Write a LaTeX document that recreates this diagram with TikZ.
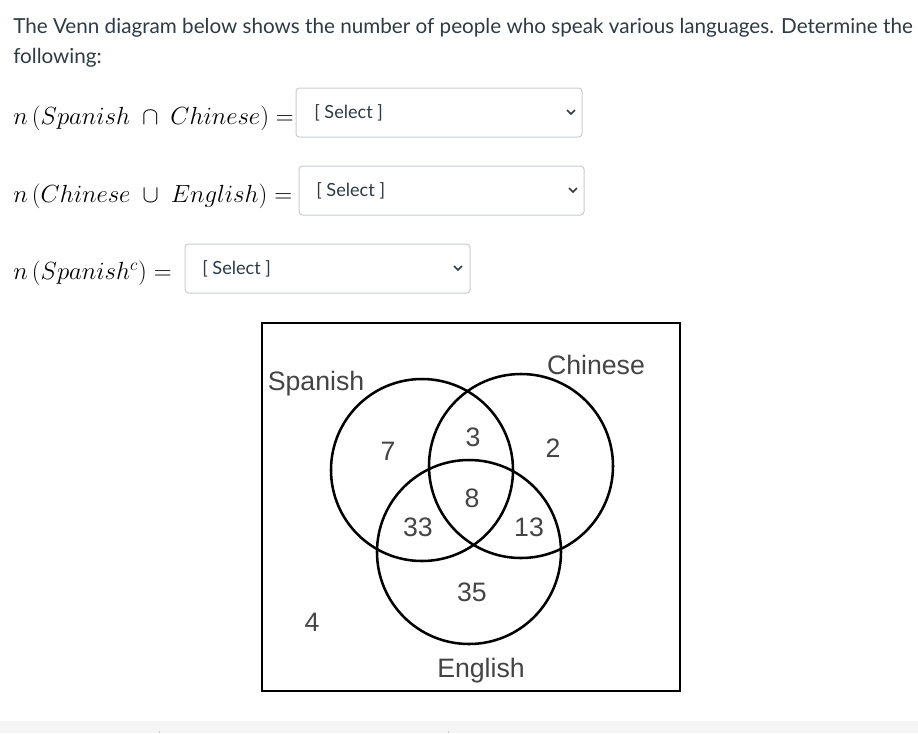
\RequirePackage{fix-cm}
\documentclass[tikz,border=0pt]{standalone}
\usepackage[no-math]{fontspec}
\usepackage{amsmath}
\usepackage{amssymb}
\setmainfont{Lato}
\newfontfamily\vennfont{Liberation Sans}
\definecolor{canvastext}{HTML}{2D3B45}
\definecolor{boxgray}{HTML}{C7CDD1}
\definecolor{venngray}{HTML}{444444}
\definecolor{stripgray}{HTML}{F5F5F5}

\begin{document}
\begin{tikzpicture}[x=0.75pt,y=-0.75pt,
  selbox/.style={draw=boxgray, line width=0.75pt, rounded corners=2.5pt},
  seltext/.style={anchor=base west, inner sep=0pt, text=canvastext, font=\fontsize{13.6}{16}\selectfont},
  chev/.style={draw=canvastext, line width=1.1pt},
  mathline/.style={anchor=base west, inner sep=0pt, font=\fontsize{18.6}{22}\selectfont},
  circ/.style={line width=1.9pt},
  vlabel/.style={inner sep=0pt, text=venngray, font=\vennfont\fontsize{20}{24}\selectfont}]
\useasboundingbox (0,0) rectangle (918,733);
\fill [white] (0,0) rectangle (918,733);
\fill [stripgray] (0,721) rectangle (918,733);
\draw [boxgray] (159,731) -- (159,733);
\draw [boxgray] (448,731) -- (448,733);
% question text
\node [anchor=base west, inner sep=0pt, text=canvastext, font=\fontsize{15.5}{18}\selectfont] (intro) at (13,33) {The Venn diagram below shows the number of people who speak various languages. Determine the};
\node [anchor=base west, inner sep=0pt, text=canvastext, font=\fontsize{15.5}{18}\selectfont] (intro2) at (13,63) {following:};
% the three questions
\node [mathline] (q1) at (13,124) {$n\left(Spanish\ \cap\ Chinese\right) =$};
\node [mathline] (q2) at (13,202) {$n\left(Chinese\ \cup\ English\right) =$};
\node [mathline] (q3) at (13,279) {$n\left(Spanish^c\right) =$};
\draw [selbox] (296,88) rectangle (582,137);
\node [seltext] (s1) at (314,118) {[ Select ]};
\draw [chev] (567,110) -- (571,114) -- (575,110);
\draw [selbox] (299,166) rectangle (584,215);
\node [seltext] (s2) at (316,196) {[ Select ]};
\draw [chev] (569,188) -- (573,192) -- (577,188);
\draw [selbox] (185,244) rectangle (470,293);
\node [seltext] (s3) at (202,274) {[ Select ]};
\draw [chev] (454,266) -- (458,270) -- (462,266);
% venn diagram
\draw [line width=2.2pt] (262,323) rectangle (680,691);
\draw [circ] (422,470) circle [radius=91];
\draw [circ] (521,466) circle [radius=92];
\draw [circ] (469,552) circle [radius=92];
\node [vlabel, anchor=base] (spanish) at (316,390) {Spanish};
\node [vlabel, anchor=base] (chinese) at (596,374) {Chinese};
\node [vlabel, anchor=base] (english) at (481,677) {English};
\node [vlabel] (n7) at (388,451) {7};
\node [vlabel] (n3) at (473,437) {3};
\node [vlabel] (n2) at (553,448) {2};
\node [vlabel] (n8) at (472,498) {8};
\node [vlabel] (n33) at (418,527) {33};
\node [vlabel] (n13) at (529,527) {13};
\node [vlabel] (n35) at (472,592) {35};
\node [vlabel] (n4) at (312,622) {4};
\end{tikzpicture}
\end{document}
